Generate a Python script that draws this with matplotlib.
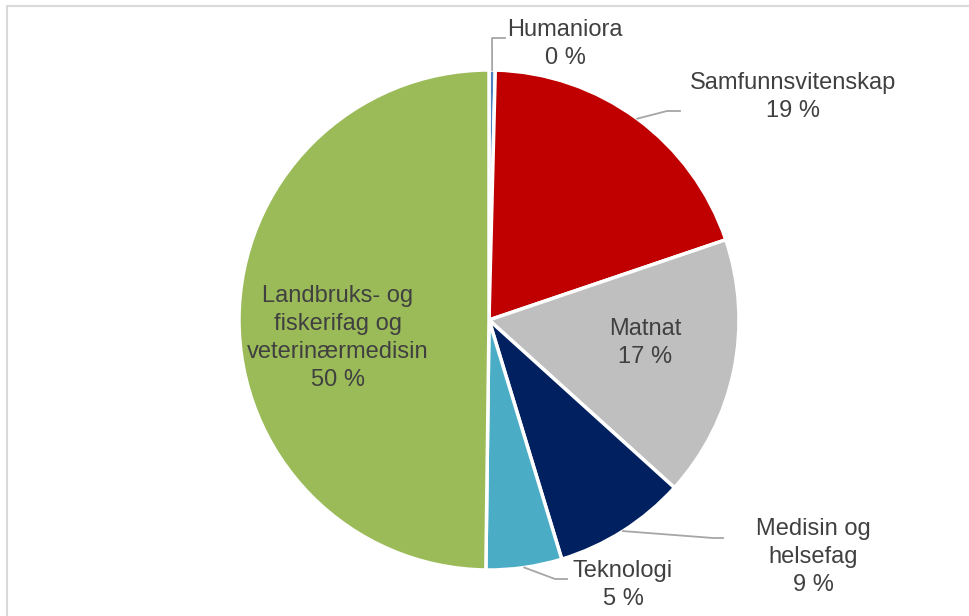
import numpy as np
import matplotlib.pyplot as plt
from matplotlib.patches import Rectangle

plt.rcParams['font.family'] = ['Liberation Sans', 'DejaVu Sans']

sectors = ["Humaniora", "Samfunnsvitenskap", "Matnat", "Medisin og\nhelsefag",
           "Teknologi", "Landbruks- og\nfiskerifag og\nveterinærmedisin"]
shares = [0.4, 19.4, 16.9, 8.6, 4.9, 49.8]
colors = ["#4f81bd", "#c00000", "#bfbfbf", "#002060", "#4bacc6", "#9bbb59"]

W, H = 970, 616
cx, cy, R = 489, H - 320, 250

# label centres (pixel coords from the top) and leader line elbows / ends
label_pos = [(565, 44), (793, 97), (645, 343), (813, 557), (623, 585), (338, 338)]
leaders = {0: [(492, 38), (505, 38)],
           1: [(667, 111), (680, 111)],
           3: [(713, 538), (723, 538)],
           4: [(555, 579), (567, 579)]}

fig = plt.figure(figsize=(W / 100, H / 100), dpi=100)
ax = fig.add_axes([0, 0, 1, 1])

wedges, _ = ax.pie(shares, colors=colors, startangle=90, counterclock=False,
                   center=(cx, cy), radius=R, frame=True,
                   wedgeprops=dict(edgecolor="white", linewidth=2.5))
ax.set_xlim(0, W)
ax.set_ylim(0, H)
ax.set_aspect('equal', adjustable='box')
ax.axis('off')

# chart border
fig.patches.append(Rectangle((7 / W, -0.1), 1.2, 1.1 - 6 / H, transform=fig.transFigure,
                             fill=False, edgecolor="#d9d9d9", linewidth=1.5))

txt = "#404040"
for i, (name, v) in enumerate(zip(sectors, shares)):
    x, y = label_pos[i]
    ax.text(x, H - y, f"{name}\n{round(v):.0f} %", ha="center", va="center",
            fontsize=17, color=txt, linespacing=1.35)
    if i in leaders:
        w = wedges[i]
        mid = np.deg2rad((w.theta1 + w.theta2) / 2)
        pts = [(cx + R * np.cos(mid), cy + R * np.sin(mid))]
        pts += [(px, H - py) for px, py in leaders[i]]
        xs, ys = zip(*pts)
        ax.plot(xs, ys, color="#a6a6a6", lw=1.3)

fig.savefig("out.png", dpi=100)
